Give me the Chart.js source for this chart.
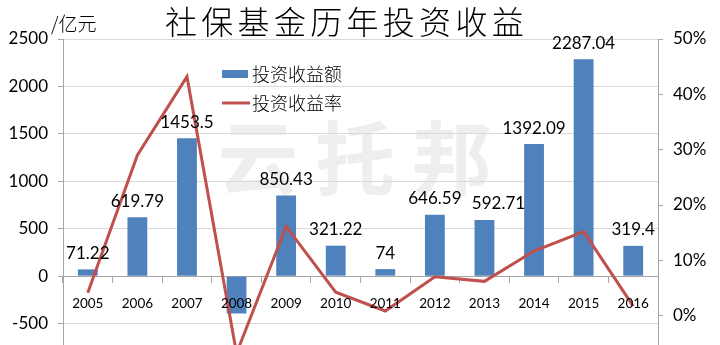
<!DOCTYPE html>
<html>
<head>
<meta charset="utf-8">
<script src="https://cdn.jsdelivr.net/npm/chart.js@4"></script>
<style>
  html, body { margin: 0; padding: 0; background: #fff; overflow: hidden; }
  #wrap { position: relative; width: 720px; height: 400px; }
</style>
</head>
<body>
<div id="wrap"><canvas id="chart"></canvas></div>
<script>
// ===== DATA =====
const years = ["2005", "2006", "2007", "2008", "2009", "2010", "2011", "2012", "2013", "2014", "2015", "2016"];
// 投资收益额 (亿元)
const returnAmounts = [71.22, 619.79, 1453.5, -393.72, 850.43, 321.22, 74, 646.59, 592.71, 1392.09, 2287.04, 319.4];
// 投资收益率 (%)
const returnRates = [4.16, 29.01, 43.19, -6.79, 16.12, 4.23, 0.84, 7.01, 6.2, 11.69, 15.19, 1.73];

const amountTicks = [-1000, -500, 0, 500, 1000, 1500, 2000, 2500];
const rateTicks = [-10, 0, 10, 20, 30, 40, 50];

const chartTitle = "社保基金历年投资收益";
const unitLabel = "/亿元";
const seriesNames = ["投资收益额", "投资收益率"];
const watermark = "云托邦";

// ===== STYLE =====
const BAR_COLOR = "#4F81BD";
const LINE_COLOR = "#C0504D";
const GRID_COLOR = "#d9d9d9";
const AXIS_COLOR = "#a6a6a6";
const NUM_FONT = "Lato, 'Noto Sans', sans-serif";
const CJK_FONT = "'Noto Sans CJK SC', sans-serif";

// small nudges so labels don't sit on the line
const labelShiftX = [0, 0, 0, 0, 0, 0, 0, 0, 14, 0, 0, 0];

// ===== DRAWING HELPERS =====
const overlay = {
    id: "overlay",
    beforeDraw(chart) {
        const ctx = chart.ctx;
        ctx.save();
        ctx.fillStyle = "#eeeeee";
        ctx.font = "bold 80px " + CJK_FONT;
        ctx.textAlign = "center";
        ctx.textBaseline = "middle";
        [...watermark].forEach((ch, i) => ctx.fillText(ch, 258 + i * 97, 158));
        ctx.restore();
    },
    afterDatasetsDraw(chart) {
        const ctx = chart.ctx;
        const bars = chart.getDatasetMeta(1).data;
        ctx.save();
        ctx.fillStyle = "#000";
        ctx.font = "17px " + NUM_FONT;
        ctx.textAlign = "center";
        ctx.textBaseline = "middle";
        bars.forEach((bar, i) => {
            if (returnAmounts[i] <= 0) return;
            ctx.fillText(String(returnAmounts[i]), bar.x + labelShiftX[i], bar.y - 16);
        });
        ctx.restore();
    },
    afterDraw(chart) {
        const ctx = chart.ctx;
        ctx.save();
        ctx.fillStyle = "#000";
        ctx.textBaseline = "middle";

        // title
        ctx.font = "300 32px " + CJK_FONT;
        ctx.textAlign = "center";
        [...chartTitle].forEach((ch, i) => ctx.fillText(ch, 181 + i * 36.3, 22));

        // unit
        ctx.font = "300 19px " + CJK_FONT;
        ctx.textAlign = "left";
        ctx.fillText(unitLabel, 51, 24);

        // legend
        ctx.fillStyle = BAR_COLOR;
        ctx.fillRect(222, 70, 26, 8);
        ctx.strokeStyle = LINE_COLOR;
        ctx.lineWidth = 3;
        ctx.beginPath();
        ctx.moveTo(222, 103);
        ctx.lineTo(250, 103);
        ctx.stroke();
        ctx.fillStyle = "#000";
        ctx.font = "300 18px " + CJK_FONT;
        ctx.fillText(seriesNames[0], 252, 74);
        ctx.fillText(seriesNames[1], 252, 103);
        ctx.restore();
    },
};

// ===== CHART =====
new Chart(document.getElementById("chart"), {
    data: {
        labels: years,
        datasets: [
            {
                type: "line",
                label: seriesNames[1],
                data: returnRates,
                yAxisID: "y1",
                borderColor: LINE_COLOR,
                borderWidth: 3,
                pointRadius: 0,
                tension: 0,
                order: 0,
            },
            {
                type: "bar",
                label: seriesNames[0],
                data: returnAmounts,
                yAxisID: "y",
                backgroundColor: BAR_COLOR,
                barPercentage: 0.8,
                categoryPercentage: 0.5,
                order: 1,
            },
        ],
    },
    options: {
        responsive: true,
        maintainAspectRatio: false,
        animation: false,
        layout: { padding: { top: 39, bottom: 29, left: 0, right: 0 } },
        plugins: {
            legend: { display: false },
            tooltip: { enabled: false },
        },
        scales: {
            x: {
                position: { y: 0 },
                offset: true,
                grid: {
                    offset: true,
                    drawOnChartArea: false,
                    drawTicks: true,
                    tickLength: 6,
                    tickColor: AXIS_COLOR,
                },
                border: { display: true, color: AXIS_COLOR },
                ticks: {
                    z: 1,
                    color: "#000",
                    font: { family: NUM_FONT, size: 13.5 },
                    padding: 13,
                    maxRotation: 0,
                    autoSkip: false,
                },
            },
            y: {
                position: "left",
                min: amountTicks[0],
                max: amountTicks[amountTicks.length - 1],
                afterFit: (s) => { s.width = 63; },
                grid: { color: GRID_COLOR, tickLength: 5, tickColor: AXIS_COLOR },
                border: { display: true, color: AXIS_COLOR },
                ticks: {
                    stepSize: amountTicks[1] - amountTicks[0],
                    color: "#000",
                    font: { family: NUM_FONT, size: 17 },
                    padding: 10,
                    callback: (v) => String(v),
                },
            },
            y1: {
                position: "right",
                min: rateTicks[0],
                max: rateTicks[rateTicks.length - 1],
                afterFit: (s) => { s.width = 62; },
                grid: { drawOnChartArea: false, tickLength: 5, tickColor: AXIS_COLOR },
                border: { display: true, color: AXIS_COLOR },
                ticks: {
                    stepSize: rateTicks[1] - rateTicks[0],
                    color: "#000",
                    font: { family: NUM_FONT, size: 17 },
                    padding: 10,
                    callback: (v) => v + "%",
                },
            },
        },
    },
    plugins: [overlay],
});
</script>
</body>
</html>
